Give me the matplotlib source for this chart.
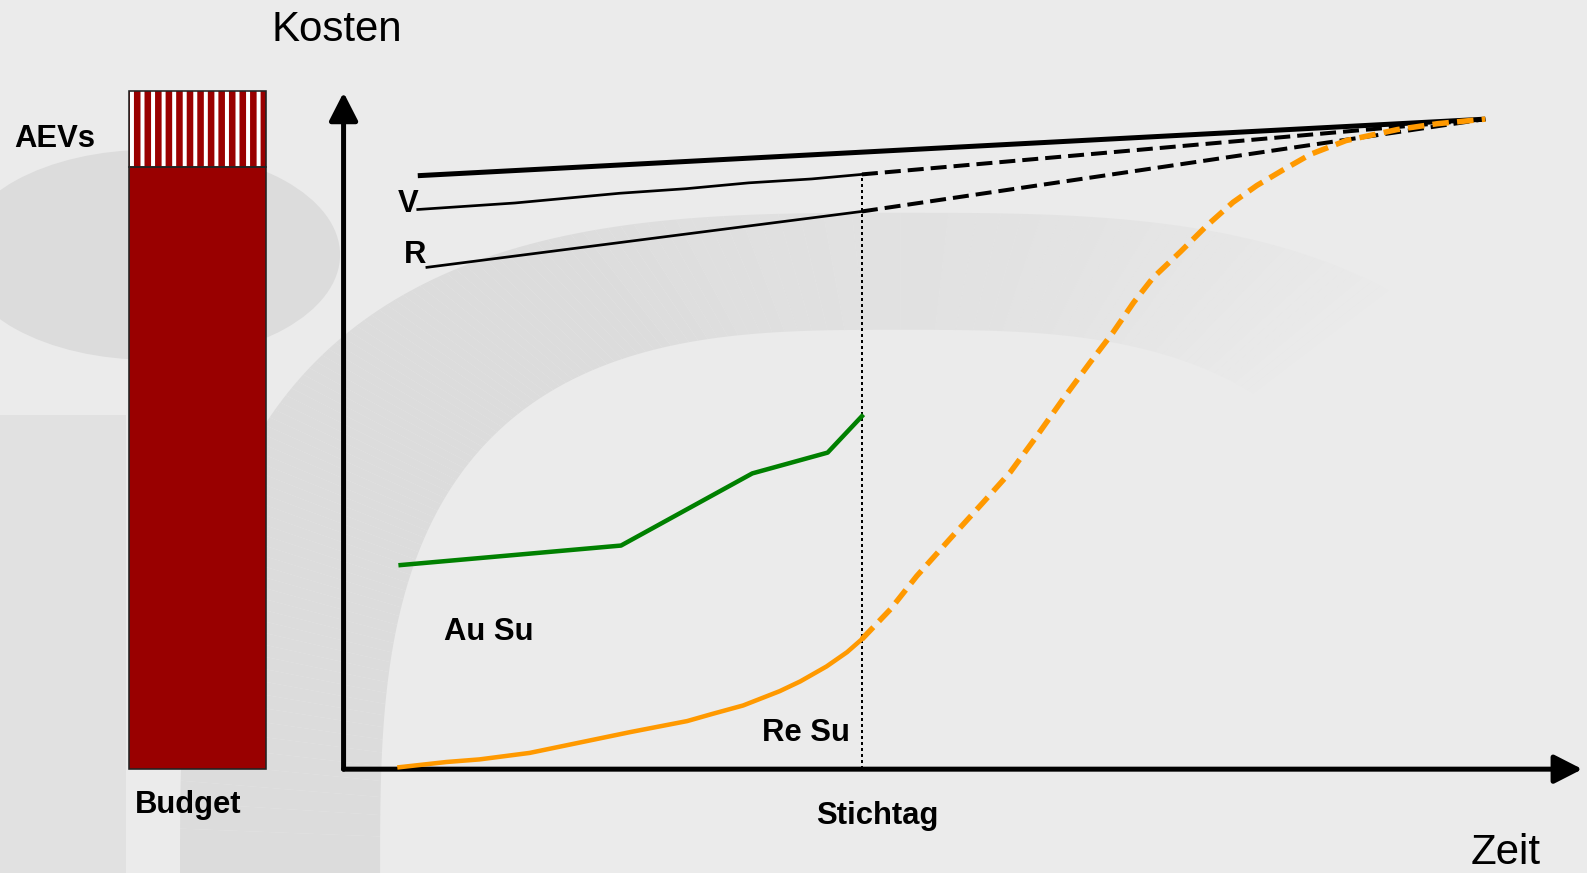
import matplotlib
matplotlib.use('Agg')
import matplotlib.pyplot as plt
import numpy as np
from matplotlib.patches import FancyArrowPatch, Ellipse, Rectangle, Polygon

plt.rcParams['font.family'] = ['Liberation Sans', 'DejaVu Sans']

# ---------------- data (time 0..100, cost 0..100) ----------------
stichtag = 45.4
budget = 92.7
aevs = 11.7

plan_t = [6.5, 100.0]
plan_c = [91.3, 100.0]

v_t = [6.5, 15.0, 24.2, 30.0, 35.5, 41.0, 45.4]
v_c = [86.1, 87.1, 88.6, 89.3, 90.2, 90.8, 91.5]
v_fc_t = [45.4, 100.0]
v_fc_c = [91.5, 100.0]

r_t = [7.3, 45.4]
r_c = [77.2, 85.8]
r_fc_t = [45.4, 100.0]
r_fc_c = [85.8, 100.0]

au_t = [5.0, 24.3, 35.8, 42.4, 45.4]
au_c = [31.4, 34.4, 45.5, 48.7, 54.3]

re_t = [4.9, 9.0, 11.9, 16.3, 20.7, 25.1, 30.1, 32.3, 35.0, 38.2, 40.0, 42.3, 44.1, 45.4]
re_c = [0.3, 1.1, 1.5, 2.5, 4.1, 5.7, 7.4, 8.5, 9.8, 12.0, 13.5, 15.8, 18.0, 20.0]

re_fc_t = [45.4, 47.9, 50.2, 53.1, 56.0, 58.4, 60.7, 63.0, 65.4, 67.4, 69.2, 70.9,
           73.3, 75.6, 77.9, 80.0, 82.3, 84.7, 87.8, 92.3, 95.8, 100.0]
re_fc_c = [20.0, 24.6, 29.7, 35.4, 41.0, 45.7, 51.2, 56.9, 62.6, 67.2, 71.8, 75.6,
           79.6, 83.6, 87.2, 89.8, 92.2, 94.6, 96.7, 98.4, 99.3, 100.0]

# ---------------- figure ----------------
W, H, DPI = 1587, 873, 190
def pt(px):
    return px * 72.0 / DPI

BG = '#ebebeb'
fig = plt.figure(figsize=((W + 0.3) / DPI, (H + 0.3) / DPI), dpi=DPI)
fig.patch.set_facecolor(BG)

# ---------------- watermark background (decoration) ----------------
bg = fig.add_axes([0, 0, 1, 1], zorder=0)
bg.set_xlim(0, W)
bg.set_ylim(H, 0)
bg.axis('off')
WM = '#dcdcdc'
bg.add_patch(Ellipse((150, 255), 380, 210, color=WM, lw=0))
bg.add_patch(Rectangle((0, 415), 126, 460, color='#e1e1e1', lw=0))

def sup(t, cx, cy, rx, ry, n=3.0):
    c, s = np.cos(t), np.sin(t)
    x = cx + rx * np.sign(c) * np.abs(c) ** (2.0 / n)
    y = cy - ry * np.sign(s) * np.abs(s) ** (2.0 / n)
    return x, y

angles = np.radians(np.linspace(55, 180, 126))
for a0, a1 in zip(angles[:-1], angles[1:]):
    tt = np.linspace(a0, a1, 4)
    xo, yo = sup(tt, 900, 873, 720, 660)
    xi, yi = sup(tt[::-1], 900, 873, 520, 543)
    deg = np.degrees(a0)
    alpha = float(np.clip((deg - 55) / 55.0, 0, 1))
    if alpha <= 0:
        continue
    bg.add_patch(Polygon(np.column_stack([np.r_[xo, xi], np.r_[yo, yi]]),
                         closed=True, color=WM, alpha=alpha, lw=0))
bg.add_patch(Rectangle((180, 873), 203, 10, color=WM, lw=0))

# ---------------- main axes ----------------
# x 0 -> px 343.5, x 100 -> px 1485 ; y 0 -> px 769.2, y 100 -> px 119.4
left = 343.5 / W
right = 1485.0 / W
bottom = 1 - 769.2 / H
top = 1 - 119.4 / H
ax = fig.add_axes([left, bottom, right - left, top - bottom], zorder=1)
ax.set_xlim(0, 100)
ax.set_ylim(0, 100)
ax.axis('off')
ax.patch.set_alpha(0)

# budget bar
plt.rcParams['hatch.linewidth'] = pt(4)
bar_x = -12.8
bar_w = 12.0
ax.bar(bar_x, budget, width=bar_w, color='#990000', edgecolor='none', lw=0, clip_on=False)
ax.bar(bar_x, aevs, bottom=budget, width=bar_w, color='#990000', edgecolor='white',
       hatch='|||', lw=0, clip_on=False)
ax.bar(bar_x, budget, width=bar_w, fill=False, edgecolor='#222222', lw=pt(1.6), clip_on=False)
ax.bar(bar_x, aevs, bottom=budget, width=bar_w, fill=False, edgecolor='#222222',
       lw=pt(1.6), clip_on=False)

# axes arrows
for (p0, p1) in [((0, 0), (0, 104.1)), ((0, 0), (108.5, 0))]:
    arr = FancyArrowPatch(p0, p1, arrowstyle='-|>,head_length=9.0,head_width=4.6',
                          mutation_scale=1, lw=pt(5), color='black',
                          shrinkA=0, shrinkB=0, clip_on=False, zorder=3)
    ax.add_patch(arr)

# Stichtag dotted line
ax.plot([stichtag, stichtag], [0, v_fc_c[0]], color='black', lw=pt(2),
        dashes=(1.5, 1.5), clip_on=False, zorder=2)

# plan line (thick)
ax.plot(plan_t, plan_c, color='black', lw=pt(5), solid_capstyle='butt', clip_on=False, zorder=4)
# V
ax.plot(v_t, v_c, color='black', lw=pt(2.7), clip_on=False, zorder=4)
ax.plot(v_fc_t, v_fc_c, color='black', lw=pt(4), dashes=(4, 1.75), clip_on=False, zorder=4)
# R
ax.plot(r_t, r_c, color='black', lw=pt(2.7), clip_on=False, zorder=4)
ax.plot(r_fc_t, r_fc_c, color='black', lw=pt(4), dashes=(4, 1.75), clip_on=False, zorder=4)
# Au Su (green)
ax.plot(au_t, au_c, color='#008000', lw=pt(4.5), clip_on=False, zorder=4)
# Re Su (orange)
ax.plot(re_t, re_c, color='#ff9900', lw=pt(4.5), clip_on=False, zorder=4)
ax.plot(re_fc_t, re_fc_c, color='#ff9900', lw=pt(5.5), dashes=(3.0, 1.5),
        clip_on=False, zorder=4)

# ---------------- texts ----------------
def ftext(x, y, s, size, bold=False, **kw):
    fig.text(x / W, 1 - y / H, s, fontsize=pt(size), ha='left', va='baseline',
             fontweight='bold' if bold else 'normal', color='black', zorder=5, **kw)

ftext(271, 41, 'Kosten', 42)
ftext(1470, 864, 'Zeit', 42)
ftext(14, 147, 'AEVs', 31, bold=True)
ftext(135, 813, 'Budget', 31, bold=True)
ftext(398, 212, 'V', 31, bold=True)
ftext(403.5, 263, 'R', 31, bold=True)
ftext(444, 640, 'Au Su', 31, bold=True)
ftext(762, 741, 'Re Su', 31, bold=True)
ftext(816, 824, 'Stichtag', 31, bold=True)

fig.savefig('out.png', dpi=DPI, facecolor=fig.get_facecolor())
